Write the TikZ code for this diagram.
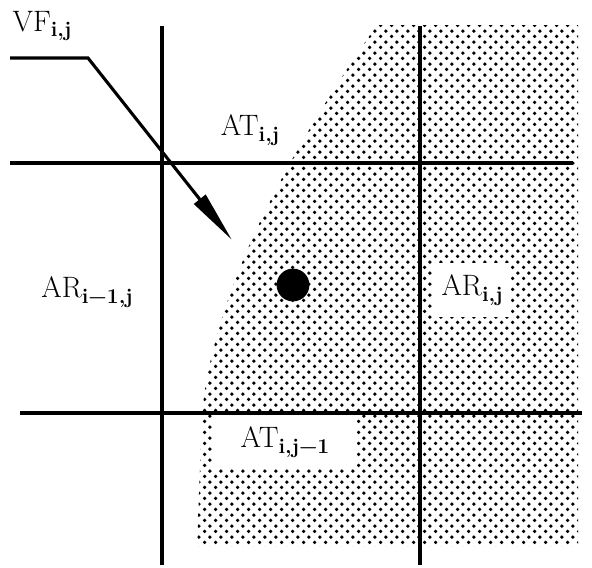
\documentclass[tikz,border=0pt]{standalone}
\usepackage{fontspec}
\setmainfont{Latin Modern Roman}
\usetikzlibrary{arrows.meta,patterns.meta}

\newcommand{\cellsub}[1]{\raisebox{-0.45ex}{\fontsize{15}{18}\selectfont\bfseries #1}}

\tikzdeclarepattern{
  name=screendots,
  type=uncolored,
  bounding box={(0,0) and (8pt,8pt)},
  tile size={(8pt,8pt)},
  code={
    \fill (2pt,2pt) circle (1.4pt);
    \fill (6pt,6pt) circle (1.4pt);
  }
}

\tikzset{
  gridline/.style={line width=2.2pt},
  celllabel/.style={font=\fontsize{21}{25}\selectfont, inner sep=2pt},
  boxlabel/.style={celllabel, fill=white, inner xsep=6pt, inner ysep=8pt},
}

\begin{document}
\begin{tikzpicture}[x=0.025cm,y=-0.025cm]
  \useasboundingbox (0,0) rectangle (592,567);

  % dotted area
  \fill[pattern=screendots] (377,25) -- (578,25) -- (578,546) -- (197,546) -- (202,413)
    .. controls (215,280) and (300,135) .. (377,25) -- cycle;

  % cell borders
  \draw[gridline] (10,163) -- (573,163);
  \draw[gridline] (20,413) -- (582,413);
  \foreach \x in {162,420}{ \draw[gridline] (\x,26) -- (\x,565); }

  % cell labels
  \node[celllabel] (atij) at (250,130) {AT\cellsub{i,j}};
  \node[celllabel] (arleft) at (87,292) {AR\cellsub{i−1,j}};
  \node[boxlabel] (arij) at (472,290) {AR\cellsub{i,j}};
  \node[boxlabel, inner xsep=20pt] (atbelow) at (285,442) {AT\cellsub{i,j−1}};

  % particle
  \node[circle, fill, minimum size=0.82cm, inner sep=0pt] (particle) at (293,285) {};

  % velocity
  \node[celllabel] (vf) at (42,26) {VF\cellsub{i,j}};
  \coordinate (vfstart) at (10,58);
  \coordinate (vfbend) at (88,58);
  \coordinate (vftip) at (232,240);
  \draw[line width=2.2pt, -{Triangle[length=1.3cm,width=0.36cm]}] (vfstart) -- (vfbend) -- (vftip);
\end{tikzpicture}
\end{document}
